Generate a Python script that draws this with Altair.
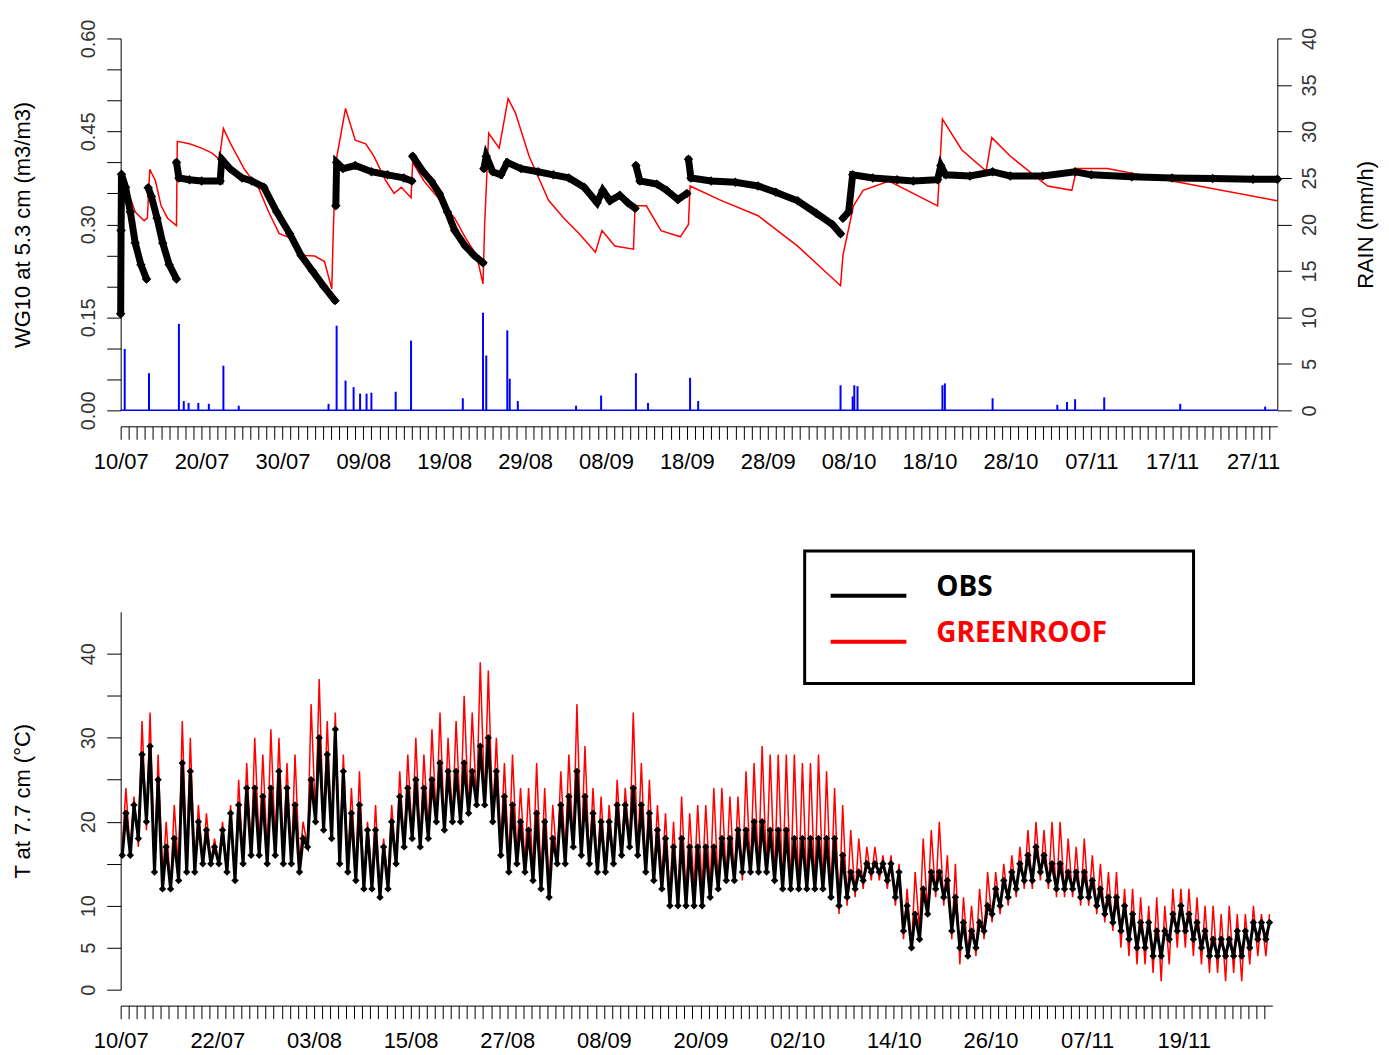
import pandas as pd
import altair as alt

# ---------------- top panel: soil water content (days since 10/07) ----------------
obs_wg_day = [0, 0.05, 0.1, 0.6, 1.2, 1.8, 2.5, 3.2,
              3.4, 3.8, 4.5, 5.2, 6.0, 6.9,
              6.9, 7.2, 8.5, 10, 12.3, 12.5, 13.5, 15, 16.2, 17.7, 19.3, 20.9, 22.3, 23.7, 25.1, 26.5,
              26.6, 26.7, 27.5, 29, 31, 33, 35, 36,
              36.1, 37.4, 38.4, 39.4, 40.4, 41.3, 42.6, 43.7, 44.8,
              44.9, 45.2, 46, 47, 47.8, 49.5, 51.6, 53.5, 55.4, 57.3, 58.9, 59.6, 60.5, 61.7, 62.7, 63.6,
              63.7, 64.2, 66.3, 67.5, 68.9, 70.0,
              70.2, 70.5, 73, 76, 78.8, 81, 83.7, 86, 88, 89,
              89.3, 90, 90.5, 93, 96, 98, 101, 101.4, 102, 105, 107.8, 110, 114, 118, 120, 125, 130, 135, 140, 143]
obs_wg_val = [0.156, 0.29, 0.381, 0.36, 0.32, 0.27, 0.235, 0.212,
              0.359, 0.345, 0.31, 0.27, 0.235, 0.212,
              0.40, 0.375, 0.372, 0.37, 0.37, 0.405, 0.39, 0.375, 0.37, 0.36, 0.32, 0.285, 0.25, 0.225, 0.20, 0.177,
              0.33, 0.40, 0.39, 0.395, 0.385, 0.38, 0.375, 0.37,
              0.41, 0.385, 0.37, 0.35, 0.32, 0.29, 0.265, 0.25, 0.238,
              0.39, 0.41, 0.385, 0.38, 0.40, 0.39, 0.385, 0.38, 0.375, 0.36, 0.335, 0.355, 0.338, 0.347, 0.335, 0.326,
              0.395, 0.37, 0.365, 0.355, 0.34, 0.35,
              0.405, 0.375, 0.37, 0.368, 0.362, 0.352, 0.338, 0.318, 0.30, 0.285,
              0.31, 0.32, 0.38, 0.375, 0.372, 0.37, 0.372, 0.395, 0.38, 0.378, 0.385, 0.378, 0.378, 0.385, 0.38,
              0.377, 0.375, 0.374, 0.373, 0.373]
obs_wg_seg = [0] * 8 + [1] * 6 + [2] * 16 + [3] * 8 + [4] * 9 + [5] * 16 + [6] * 6 + [7] * 10 + [8] * 20

gr_wg_day = [0, 0.3, 0.35, 1, 1.8, 2.9, 3.3, 3.6, 4.3, 5, 5.8, 6.9, 7.0, 8.5, 10, 11.3, 12.2, 12.7, 13.6,
             15.3, 17, 18.3, 19.6, 21.6, 22.5, 24, 25.2, 26.1, 26.3, 26.6, 27.8, 29, 30.3, 31.3, 32.8, 33.8,
             34.7, 35.9, 36.1, 37.5, 39.5, 41.3, 42.6, 44, 44.8, 45.0, 45.5, 46.8, 47.9, 48.8, 50.5, 52.9,
             54.8, 56.7, 58.7, 59.5, 61.1, 63.4, 63.6, 65, 66.8, 69.2, 70.2, 70.4, 74, 78.8, 83.7, 89, 89.3,
             90.6, 91.8, 95, 101, 101.6, 104, 107, 107.7, 110, 114.6, 117.6, 118.2, 122, 130, 143]
gr_wg_val = [0.233, 0.233, 0.37, 0.35, 0.32, 0.306, 0.31, 0.389, 0.37, 0.33, 0.31, 0.298, 0.434, 0.43, 0.423,
             0.415, 0.405, 0.455, 0.43, 0.389, 0.36, 0.32, 0.285, 0.275, 0.25, 0.249, 0.24, 0.196, 0.295, 0.40,
             0.487, 0.436, 0.43, 0.41, 0.37, 0.35, 0.36, 0.343, 0.40, 0.37, 0.339, 0.31, 0.279, 0.25, 0.204,
             0.30, 0.447, 0.423, 0.503, 0.48, 0.41, 0.339, 0.31, 0.285, 0.255, 0.29, 0.265, 0.26, 0.33, 0.33,
             0.29, 0.28, 0.30, 0.362, 0.34, 0.314, 0.265, 0.201, 0.25, 0.33, 0.355, 0.37, 0.33, 0.47, 0.42,
             0.386, 0.44, 0.41, 0.362, 0.355, 0.39, 0.39, 0.37, 0.338]

rain_day = [0.5, 3.5, 7.2, 7.8, 8.4, 9.6, 10.9, 12.7, 14.6, 25.7, 26.7, 27.8, 28.8, 29.6, 30.4, 31, 34, 35.9,
            42.3, 44.8, 45.2, 47.8, 48.1, 49.1, 56.3, 59.4, 63.7, 65.2, 70.4, 71.4, 89, 90.5, 90.7, 91.1,
            101.6, 101.9, 107.8, 115.8, 117, 118, 121.6, 131, 141.5]
rain_val = [6.6, 4.0, 9.3, 1.0, 0.8, 0.8, 0.7, 4.8, 0.5, 0.7, 9.1, 3.2, 2.5, 1.8, 1.8, 1.9, 2.0, 7.5,
            1.3, 10.5, 5.9, 8.6, 3.4, 1.0, 0.5, 1.6, 4.0, 0.8, 3.5, 1.0, 2.7, 1.5, 2.7, 2.6,
            2.7, 2.9, 1.3, 0.6, 0.9, 1.2, 1.4, 0.7, 0.4]

top_tick_days = list(range(0, 141, 10))
top_tick_labels = ["10/07", "20/07", "30/07", "09/08", "19/08", "29/08", "08/09", "18/09", "28/09",
                   "08/10", "18/10", "28/10", "07/11", "17/11", "27/11"]

# ---------------- bottom panel: temperature, daily max / min ----------------
gr_tmax = [24, 23, 32, 33, 28, 20, 22, 32, 30, 22,
           21, 18, 20, 22, 25, 27, 30, 28, 31, 30,
           27, 28, 20, 34, 37, 32, 33, 28, 24, 26,
           20, 22, 18, 22, 26, 28, 30, 28, 31, 33,
           30, 32, 35, 33, 39, 38, 30, 27, 28, 24,
           24, 27, 24, 22, 26, 28, 34, 29, 24, 23,
           22, 25, 24, 33, 27, 25, 22, 21, 20, 23,
           21, 22, 22, 24, 24, 23, 23, 26, 27, 29,
           28, 28, 28, 28, 27, 27, 28, 26, 24, 22,
           19, 18, 17, 17, 16, 16, 15, 12, 14, 18,
           19, 20, 16, 15, 11, 10, 12, 14, 14, 15,
           16, 17, 19, 20, 19, 20, 20, 18, 17, 18,
           16, 15, 14, 14, 12, 12, 11, 10, 11, 10,
           12, 12, 12, 11, 10, 10, 9, 10, 9, 9,
           10, 9, 9]
gr_tmin = [17, 16, 17, 19, 15, 13, 12, 14, 15, 14,
           15, 15, 15, 14, 13, 15, 16, 17, 16, 17,
           16, 15, 15, 17, 20, 19, 18, 16, 15, 14,
           12, 13, 11, 13, 15, 17, 18, 17, 19, 20,
           19, 20, 20, 21, 22, 22, 20, 17, 15, 16,
           15, 14, 13, 12, 15, 16, 17, 16, 15, 14,
           14, 15, 16, 17, 16, 14, 13, 13, 11, 10,
           11, 12, 12, 12, 12, 13, 13, 13, 14, 14,
           14, 13, 12, 12, 12, 12, 12, 12, 11, 9,
           10, 11, 12, 13, 13, 12, 10, 6, 5, 7,
           9, 11, 10, 6, 3, 4, 4, 6, 8, 9,
           10, 11, 12, 12, 13, 12, 11, 11, 11, 10,
           10, 9, 8, 7, 5, 4, 3, 3, 2, 1,
           3, 5, 5, 4, 3, 2, 2, 1, 2, 1,
           3, 4, 4]
obs_tmax = [21, 22, 28, 29, 25, 17, 18, 27, 26, 20,
            19, 17, 19, 21, 22, 24, 24, 23, 24, 26,
            24, 22, 18, 25, 30, 28, 31, 26, 21, 22,
            19, 19, 17, 20, 23, 24, 25, 24, 25, 27,
            26, 26, 27, 26, 29, 30, 26, 23, 22, 20,
            19, 21, 20, 18, 22, 23, 26, 23, 21, 20,
            20, 22, 22, 24, 22, 21, 19, 18, 17, 18,
            17, 17, 17, 17, 18, 18, 19, 19, 20, 20,
            19, 19, 19, 18, 18, 18, 18, 18, 18, 16,
            14, 14, 15, 15, 15, 15, 14, 10, 9, 12,
            14, 14, 13, 11, 8, 7, 8, 10, 12, 13,
            14, 15, 16, 17, 16, 15, 15, 14, 14, 14,
            13, 12, 11, 11, 10, 9, 8, 8, 7, 7,
            9, 10, 9, 8, 7, 6, 6, 6, 7, 7,
            8, 8, 8]
obs_tmin = [16, 16, 18, 20, 14, 12, 12, 13, 14, 14,
            15, 15, 15, 14, 13, 15, 16, 16, 15, 16,
            15, 15, 14, 17, 20, 19, 18, 15, 14, 13,
            12, 12, 11, 12, 15, 17, 18, 17, 18, 20,
            19, 20, 20, 21, 22, 22, 20, 16, 14, 15,
            14, 13, 12, 11, 15, 15, 17, 16, 15, 14,
            14, 15, 16, 17, 16, 14, 13, 12, 10, 10,
            10, 10, 10, 11, 12, 13, 13, 14, 14, 14,
            14, 13, 12, 12, 12, 12, 12, 12, 11, 10,
            11, 12, 13, 14, 14, 13, 11, 7, 5, 6,
            9, 12, 11, 7, 5, 4, 5, 7, 9, 10,
            11, 12, 13, 13, 14, 13, 12, 12, 12, 11,
            11, 10, 9, 8, 7, 6, 5, 5, 4, 4,
            6, 7, 7, 6, 5, 4, 4, 4, 4, 4,
            5, 6, 6]

bot_tick_days = list(range(0, 133, 12))
bot_tick_labels = ["10/07", "22/07", "03/08", "15/08", "27/08", "08/09", "20/09", "02/10",
                   "14/10", "26/10", "07/11", "19/11"]

FONT = "Liberation Sans"
XDOM = [0, 143]


def label_expr(days, labels):
    expr = "''"
    for d, l in reversed(list(zip(days, labels))):
        expr = f"datum.value == {d} ? '{l}' : " + expr
    return expr


def x_axis(days, labels):
    return alt.Axis(values=list(range(0, 143)), labelExpr=label_expr(days, labels), labelOverlap=False,
                    labelFlush=False, labelAngle=0, labelFontSize=22, labelPadding=12, tickSize=13,
                    offset=16, grid=False, domainColor="black", tickColor="black", labelColor="black",
                    title=None, labelFont=FONT)


def y_axis(title, values, expr=None, orient="left"):
    kw = dict(values=values, orient=orient, grid=False, labelAngle=270, labelAlign="center",
              labelBaseline="bottom" if orient == "left" else "top", labelFontSize=20,
              labelFont=FONT, labelPadding=8, tickSize=14, title=title, titleFont=FONT,
              titleFontSize=22, titleFontWeight="normal", titleAngle=270,
              titlePadding=44 if orient == "left" else 36, domainColor="black",
              tickColor="black", labelColor="#333", titleColor="black", labelOverlap=False,
              labelFlush=False)
    if orient == "right":
        kw["titleBaseline"] = "top"
    if expr:
        kw["labelExpr"] = expr
    return alt.Axis(**kw)


# ---- top panel ----
df_obs = pd.DataFrame({"day": obs_wg_day, "wg": obs_wg_val, "seg": obs_wg_seg})
df_gr = pd.DataFrame({"day": gr_wg_day, "wg": gr_wg_val})
df_rain = pd.DataFrame({"day": rain_day, "rain": rain_val})

xs_top = alt.X("day:Q", scale=alt.Scale(domain=XDOM, nice=False), axis=x_axis(top_tick_days, top_tick_labels))
wg_values = [round(i * 0.05, 2) for i in range(13)]
ys_wg = alt.Y("wg:Q", scale=alt.Scale(domain=[0, 0.6], nice=False),
              axis=y_axis("WG10 at 5.3 cm (m3/m3)", wg_values,
                          "(round(datum.value * 100) % 15 == 0) ? format(datum.value, '.2f') : ''"))

gr_line = alt.Chart(df_gr).mark_line(color="#ff0000", strokeWidth=1.5).encode(x=xs_top, y=ys_wg)
obs_line = alt.Chart(df_obs).mark_line(color="black", strokeWidth=7, strokeCap="round").encode(
    x=xs_top, y=ys_wg, detail="seg:N")
obs_pts = alt.Chart(df_obs).mark_point(shape="diamond", filled=True, color="black", size=90, opacity=1).encode(
    x=xs_top, y=ys_wg)
wg_layer = alt.layer(gr_line, obs_line, obs_pts)

ys_rain = alt.Y("rain:Q", scale=alt.Scale(domain=[0, 40], nice=False),
                axis=y_axis("RAIN (mm/h)", list(range(0, 41, 5)), orient="right"))
rain_bars = alt.Chart(df_rain).mark_rule(color="#0000ff", strokeWidth=2).encode(
    x=xs_top, y=ys_rain, y2=alt.datum(0))
rain_base = alt.Chart(pd.DataFrame({"day": [0], "end": [143], "rain": [0]})).mark_rule(
    color="#0000ff", strokeWidth=1.5).encode(x=xs_top, x2="end:Q", y=ys_rain)
rain_layer = alt.layer(rain_base, rain_bars)

top = alt.layer(wg_layer, rain_layer).resolve_scale(y="independent").properties(width=1160, height=373)

# ---- bottom panel ----
rows = []
for d in range(len(gr_tmax)):
    rows.append({"t": d + 0.2, "gr": gr_tmin[d], "obs": obs_tmin[d]})
    rows.append({"t": d + 0.65, "gr": gr_tmax[d], "obs": obs_tmax[d]})
df_t = pd.DataFrame(rows)

xs_bot = alt.X("t:Q", scale=alt.Scale(domain=XDOM, nice=False), axis=x_axis(bot_tick_days, bot_tick_labels))
t_axis = y_axis("T at 7.7 cm (°C)", list(range(0, 41, 5)),
                "(datum.value == 15 || datum.value == 25 || datum.value == 35) ? '' : datum.label")
gr_t = alt.Chart(df_t).mark_line(color="#ff0000", strokeWidth=1.5).encode(
    x=xs_bot, y=alt.Y("gr:Q", scale=alt.Scale(domain=[0, 45], nice=False), axis=t_axis))
obs_t = alt.Chart(df_t).mark_line(color="black", strokeWidth=3).encode(x=xs_bot, y="obs:Q")
obs_tp = alt.Chart(df_t).mark_point(shape="diamond", filled=True, color="black", size=55, opacity=1).encode(
    x=xs_bot, y="obs:Q")

one = pd.DataFrame({"a": [0]})
leg_box = alt.Chart(one).mark_rect(fill="white", stroke="black", strokeWidth=3).encode(
    x=alt.value(686), x2=alt.value(1076), y=alt.value(-61), y2=alt.value(72))
leg_obs = alt.Chart(one).mark_rule(color="black", strokeWidth=4).encode(
    x=alt.value(712), x2=alt.value(788), y=alt.value(-16))
leg_gr = alt.Chart(one).mark_rule(color="#ff0000", strokeWidth=4).encode(
    x=alt.value(712), x2=alt.value(788), y=alt.value(30))
leg_obs_txt = alt.Chart(one).mark_text(text="OBS", font="Open Sans", fontWeight="bold", fontSize=28,
                                       align="left", baseline="middle", color="black").encode(
    x=alt.value(818), y=alt.value(-24))
leg_gr_txt = alt.Chart(one).mark_text(text="GREENROOF", font="Open Sans", fontWeight="bold", fontSize=28,
                                      align="left", baseline="middle", color="#ff0000").encode(
    x=alt.value(818), y=alt.value(22))

bottom = alt.layer(gr_t, obs_t, obs_tp, leg_box, leg_obs, leg_gr, leg_obs_txt, leg_gr_txt).properties(
    width=1155, height=379)

chart = alt.vconcat(top, bottom, spacing=202, bounds="flush").properties(
    padding={"left": 3, "top": 9, "right": 5, "bottom": 5}
).configure_view(stroke=None)

chart.save("out.html", embed_options={"renderer": "svg", "actions": False})
